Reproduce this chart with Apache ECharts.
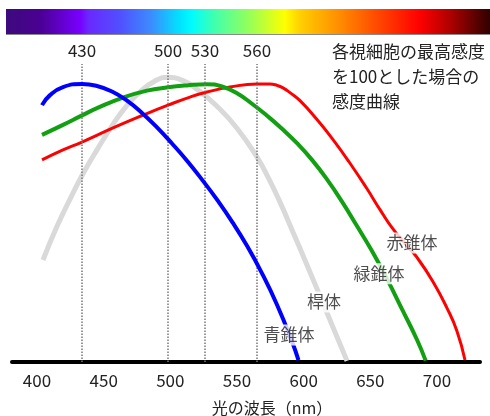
<!DOCTYPE html>
<html><head><meta charset="utf-8">
<script src="https://cdn.jsdelivr.net/npm/echarts@6/dist/echarts.min.js"></script>
<style>html,body{margin:0;padding:0;background:#fff}#c{width:490px;height:416px}</style>
</head><body><div id="c"></div>
<script>
// wavelength (nm), relative sensitivity (%)
const blueCone = [[403.75,92.4],[409.75,96.0],[419.5,98.9],[433.75,100],[445,99.3],[456.25,97.3],[467.5,94.0],[478.75,89.6],[490,84.4],[501.25,78.6],[512.5,72.4],[523.75,65.6],[535,58.4],[546.25,50.5],[557.5,41.8],[568.75,31.9],[580,20.6],[591.25,7.4],[596.1,0.7]];
const rod = [[404.5,36.7],[415,48.8],[424.75,58.6],[434.5,67.7],[445,76.3],[457,85.5],[467.5,92.3],[477.25,97.2],[488.5,101.1],[498.25,102.4],[509.5,101.2],[520,98.1],[535,92.0],[550,84.1],[565,73.7],[573.25,66.5],[582.25,57.5],[592,46.7],[602.5,34.9],[618.25,16.8],[632.5,0.4]];
const greenCone = [[403.75,81.7],[419.5,85.3],[433.75,88.7],[445,91.3],[464.5,95.1],[482.5,97.6],[498.25,98.8],[512.5,99.5],[527.5,99.9],[538.75,99.1],[550,96.7],[561.25,92.9],[572.5,88.6],[583.75,83.9],[595,78.7],[606.25,72.7],[617.5,65.7],[628.75,57.7],[640,48.9],[651.25,39.9],[662.5,29.9],[673.75,19.0],[685,8.0],[691.5,0.5]];
const redCone = [[403.75,72.7],[419.5,76.3],[433.75,79.1],[457,84.2],[479.5,88.8],[498.25,92.4],[514.75,95.3],[527.5,97.1],[544.75,98.9],[565,100],[574.75,100],[580,99.5],[584.5,98.6],[589.75,96.9],[597.25,94.0],[610,87.2],[622,80.0],[634.75,71.5],[647.5,62.3],[657.25,54.8],[666.25,48.3],[676,42.7],[685,37.6],[697,28.9],[707.5,19.4],[715,11.1],[721,0.7]];
// peak markers: label text and position
const peakLabels = ['430','500','530','560'];
const peakPositions = [433.8, 498.3, 526, 565];
const peakLineTop = 107.2;
// curve names and where they sit
const curveLabels = [['赤錐体',681.3,42.8],['緑錐体',656.5,31.7],['桿体',615.3,21.6],['青錐体',589,9.7]];
const xTicks = [400,450,500,550,600,650,700];
const xTitle = '光の波長（nm）';
const note = '各視細胞の最高感度\nを100とした場合の\n感度曲線';

const FONT = '"Noto Sans CJK JP", "Noto Sans", sans-serif';
const chart = echarts.init(document.getElementById('c'), null, {renderer:'canvas'});

const markData = peakPositions.map((p,i)=>[
  {coord:[p,0], label:{formatter:peakLabels[i]}},
  {coord:[p,peakLineTop]}
]);

chart.setOption({
  animation:false,
  backgroundColor:'#fff',
  grid:{left:12,right:10,top:56.2,bottom:54},
  xAxis:{type:'value',min:381.25,max:732.25,
    axisLine:{show:true,onZero:false,lineStyle:{color:'#000',width:4}},
    axisTick:{show:false},splitLine:{show:false},
    axisLabel:{customValues:xTicks,color:'#222',fontSize:17,fontFamily:FONT,margin:10}
  },
  yAxis:{type:'value',min:0,max:110,show:false,splitLine:{show:false}},
  graphic:[
    {type:'rect',shape:{x:6,y:9,width:484,height:25},style:{fill:new echarts.graphic.LinearGradient(0,0,1,0,[
      {offset:0,color:'#3d0a7d'},{offset:0.07,color:'#4a0092'},{offset:0.153,color:'#7800ff'},
      {offset:0.17,color:'#6a28ff'},{offset:0.236,color:'#5050ff'},{offset:0.30,color:'#3c8cff'},
      {offset:0.36,color:'#00e4ff'},{offset:0.384,color:'#00fcff'},{offset:0.43,color:'#40ffb0'},
      {offset:0.504,color:'#98ff58'},{offset:0.576,color:'#ffff00'},{offset:0.607,color:'#ffd000'},
      {offset:0.69,color:'#ff8c00'},{offset:0.773,color:'#ff4400'},{offset:0.855,color:'#ff0000'},
      {offset:0.917,color:'#b00000'},{offset:1,color:'#300000'}])}},
    {type:'rect',shape:{x:6,y:34,width:484,height:1},style:{fill:'rgba(60,60,60,0.6)'}},
    {type:'text',x:332,y:39,style:{text:note,fill:'#222',font:'17px '+FONT,lineHeight:25,textVerticalAlign:'top'}},
    {type:'text',x:272,y:408,style:{text:xTitle,fill:'#222',font:'16px '+FONT,textAlign:'center',textVerticalAlign:'middle'}}
  ],
  series:[
    {type:'line',data:[],z:1,silent:true,
      markLine:{symbol:['none','none'],silent:true,animation:false,
        lineStyle:{color:'#777',width:1.5,type:[1.5,1.5]},
        label:{show:true,position:'end',distance:5,color:'#222',fontSize:17,fontFamily:FONT},
        data:markData}},
    {name:'桿体',type:'line',data:rod,smooth:0.5,showSymbol:false,z:2,lineStyle:{color:'#d9d9d9',width:5}},
    {name:'赤錐体',type:'line',data:redCone,smooth:0.5,showSymbol:false,z:3,lineStyle:{color:'#ff0000',width:3}},
    {name:'緑錐体',type:'line',data:greenCone,smooth:0.5,showSymbol:false,z:4,lineStyle:{color:'#12a012',width:4}},
    {name:'青錐体',type:'line',data:blueCone,smooth:0.5,showSymbol:false,z:5,lineStyle:{color:'#0000ff',width:4}},
    {type:'scatter',z:10,symbolSize:0,data:curveLabels.map(d=>[d[1],d[2],d[0]]),
      label:{show:true,position:'inside',formatter:p=>p.data[2],color:'#222',fontSize:17,fontFamily:FONT,backgroundColor:'#fff',padding:[2,2]}}
  ]
});
</script></body></html>
